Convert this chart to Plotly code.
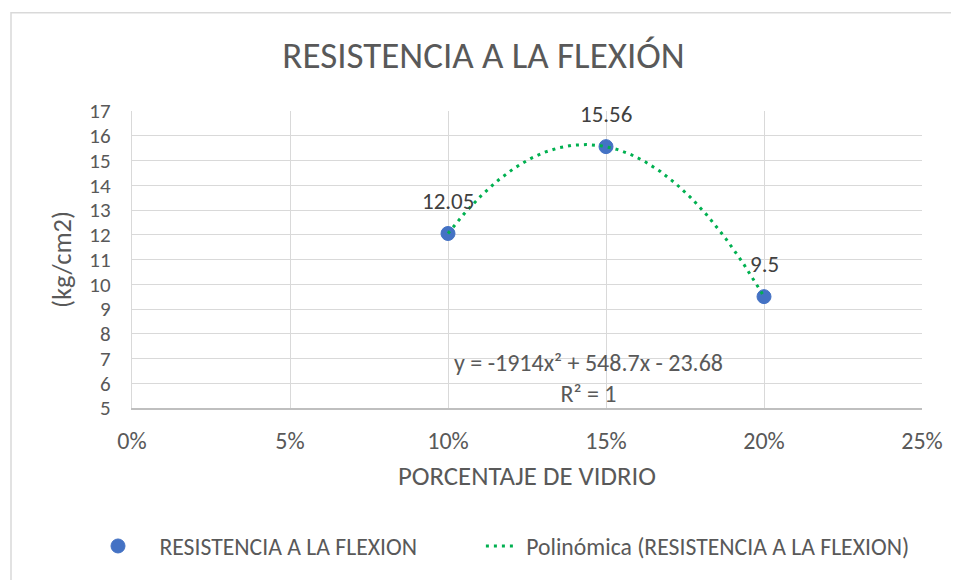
import numpy as np
import plotly.graph_objects as go

x_vals = [0.10, 0.15, 0.20]
y_vals = [12.05, 15.56, 9.5]
data_labels = ["12.05", "15.56", "9.5"]
series_name = "RESISTENCIA A LA FLEXION"
trend_name = "Polinómica (RESISTENCIA A LA FLEXION)"
x_ticks = [0, 0.05, 0.10, 0.15, 0.20, 0.25]
x_tick_text = ["0%", "5%", "10%", "15%", "20%", "25%"]
y_ticks = list(range(5, 18))

coef = np.polyfit(x_vals, y_vals, 2)
xt = np.linspace(min(x_vals), max(x_vals), 200)
yt = np.polyval(coef, xt)

FONT = "Carlito, Calibri, Lato, sans-serif"
GREY = "#595959"
NB = "\u00a0"

fig = go.Figure()
fig.add_trace(go.Scatter(
    x=x_vals, y=y_vals, mode="markers", name=NB * 4 + series_name + NB * 11,
    marker=dict(color="#4472C4", size=14, line=dict(color="#4472C4", width=1)),
    hoverinfo="x+y"))
fig.add_trace(go.Scatter(
    x=xt, y=yt, mode="lines", name=NB + trend_name,
    line=dict(color="#00B050", width=3, dash="3px,5px"),
    hoverinfo="skip"))

for xv, yv, lab in zip(x_vals, y_vals, data_labels):
    fig.add_annotation(x=xv, y=yv, xref="x", yref="y", text=lab, showarrow=False,
                       yshift=33, yanchor="middle", xanchor="center",
                       font=dict(family=FONT, size=23, color="#404040"))

W, H = 951, 572  # page body adds 8px offset
L, T, R, B = 124, 103, 37, 170

fig.update_layout(
    width=W, height=H,
    margin=dict(l=L, r=R, t=T, b=B),
    paper_bgcolor="white", plot_bgcolor="white",
    font=dict(family=FONT, color=GREY),
    title=dict(text="RESISTENCIA A LA FLEXIÓN", x=0.5, xanchor="center",
               y=1 - 47 / H, yanchor="middle",
               font=dict(family=FONT, size=37, color=GREY)),
    xaxis=dict(range=[0, 0.25], tickvals=x_ticks, ticktext=x_tick_text,
               showgrid=True, gridcolor="#D9D9D9", gridwidth=1.3,
               zeroline=False, showline=True, linecolor="#BFBFBF", linewidth=1.5,
               ticks="outside", ticklen=10, tickcolor="rgba(0,0,0,0)",
               tickfont=dict(family=FONT, size=24, color=GREY),
               title=dict(text="PORCENTAJE DE VIDRIO", standoff=13,
                          font=dict(family=FONT, size=26.8, color=GREY))),
    yaxis=dict(range=[5, 17], tickvals=y_ticks,
               showgrid=True, gridcolor="#D9D9D9", gridwidth=1.3,
               zeroline=False, showline=True, linecolor="#D9D9D9", linewidth=1.3,
               ticks="outside", ticklen=16, tickcolor="rgba(0,0,0,0)",
               tickfont=dict(family=FONT, size=21, color=GREY),
               title=dict(text="(kg/cm2)", standoff=10,
                          font=dict(family=FONT, size=26.5, color=GREY))),
    legend=dict(orientation="h", x=(98 - 8 - L) / 790, xanchor="left",
                y=-(541 - 402) / 299, yanchor="middle",
                font=dict(family=FONT, size=23.7, color=GREY),
                traceorder="normal", bgcolor="rgba(0,0,0,0)"),
    showlegend=True,
)
fig.add_annotation(x=(588 - 132) / 790 * 0.25, y=6.2, xref="x", yref="y",
                   showarrow=False,
                   text="y = -1914x² + 548.7x - 23.68<br>R² = 1",
                   align="center", yanchor="middle",
                   font=dict(family=FONT, size=24, color=GREY))
fig.add_shape(type="rect", xref="paper", yref="paper",
              x0=(3 - L) / 790, x1=(975 - L) / 790,
              y0=-(600 - 402) / 299, y1=(402 - 4) / 299,
              line=dict(color="#D9D9D9", width=1.5), layer="below")
fig.write_html("out.html")
